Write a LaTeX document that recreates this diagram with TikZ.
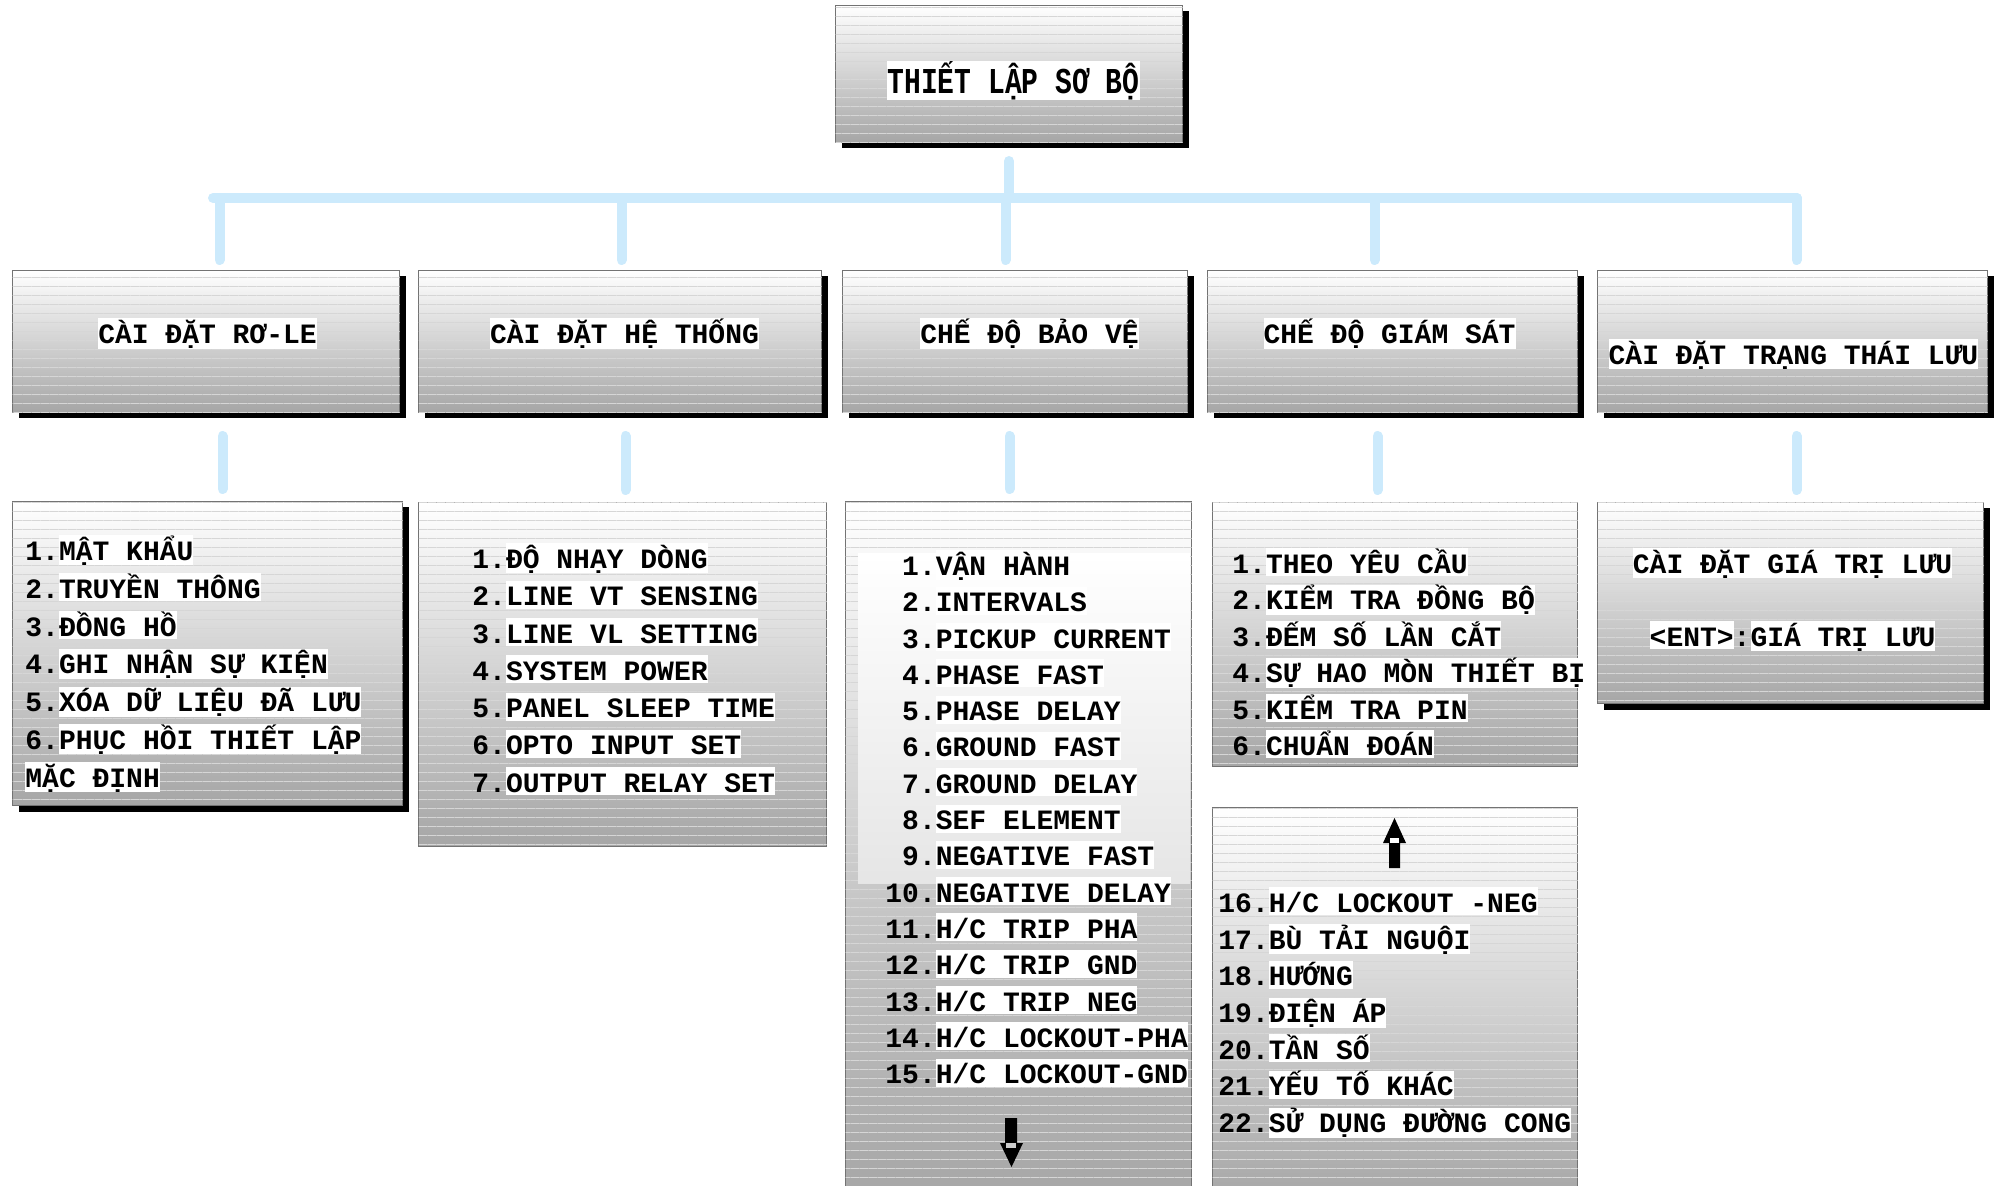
\documentclass[tikz,border=0pt]{standalone}
\usepackage{fontspec}
\setmonofont{Liberation Mono}
\usetikzlibrary{positioning,shadows,patterns.meta}

\definecolor{linkblue}{RGB}{204,234,252}
\newcommand{\hilite}[1]{{\setlength{\fboxsep}{0pt}\colorbox{white}{\rule[-1.5pt]{0pt}{14pt}#1}}}
\newcommand{\nr}[1]{\makebox[25.2pt][r]{#1}}

\begin{document}
\begin{tikzpicture}[
    x=0.5pt, y=-0.5pt,
    panel/.style = {rectangle, draw=black!55, line width=0.5pt, top color=white, bottom color=black!35,
        postaction={pattern={Lines[angle=0,distance=4.5pt,line width=0.3pt]}, pattern color=black!16},
        inner sep=0pt, minimum height=71pt},
    shadowed/.style = {drop shadow={shadow xshift=3pt, shadow yshift=-3pt, fill=black, opacity=1}},
    title/.style = {font=\ttfamily\bfseries\fontsize{14}{17}\selectfont, inner sep=0pt, anchor=base},
    itemlist/.style = {font=\ttfamily\bfseries\fontsize{14}{#1}\selectfont, align=left, inner sep=0pt, anchor=north west},
    link/.style = {draw=linkblue, line width=5pt, line cap=round}
]
    \useasboundingbox (0,0) rectangle (2000,1186);
    \clip (0,0) rectangle (2000,1186);

    % 1. Top box
    \node [panel, shadowed, minimum width=173.5pt, minimum height=68.5pt, anchor=north west] (root) at (835,5) {};
    \node [title] (root-t) at ([xshift=2.25pt,yshift=-9.75pt]root.center) {\scalebox{1}[1.3]{\hilite{THIẾT LẬP SƠ BỘ}}};

    % 2. Second row
    \node [panel, shadowed, minimum width=193.5pt, anchor=north west] (relay) at (12,270) {};
    \node [panel, shadowed, minimum width=201.5pt, anchor=north west] (system) at (418,270) {};
    \node [panel, shadowed, minimum width=172.5pt, anchor=north west] (protect) at (842,270) {};
    \node [panel, shadowed, minimum width=185pt, anchor=north west] (monitor) at (1207,270) {};
    \node [panel, shadowed, minimum width=195pt, anchor=north west] (store) at (1597,270) {};

    \node [title] (relay-t) at ([xshift=0.75pt,yshift=-1pt]relay.center) {\hilite{CÀI ĐẶT RƠ-LE}};
    \node [title] (system-t) at ([xshift=2.25pt,yshift=-1pt]system.center) {\hilite{CÀI ĐẶT HỆ THỐNG}};
    \node [title] (protect-t) at ([xshift=7.25pt,yshift=-1pt]protect.center) {\hilite{CHẾ ĐỘ BẢO VỆ}};
    \node [title] (monitor-t) at ([xshift=-1.5pt,yshift=-1pt]monitor.center) {\hilite{CHẾ ĐỘ GIÁM SÁT}};
    \node [title] (store-t) at ([xshift=0.5pt,yshift=-11.5pt]store.center) {\hilite{CÀI ĐẶT TRẠNG THÁI LƯU}};

    % 3. Third row (menu lists)
    \node [panel, shadowed, minimum width=195pt, minimum height=152pt, anchor=north west] (relaylist) at ([yshift=-44pt]relay.south west) {};
    \node [panel, minimum width=204pt, minimum height=172pt, anchor=north west] (systemlist) at ([yshift=-44.5pt]system.south west) {};
    \node [panel, middle color=black!20, minimum width=173pt, minimum height=350pt, anchor=north west] (protectlist) at ([xshift=1.5pt,yshift=-44pt]protect.south west) {};
    \node [panel, minimum width=182.5pt, minimum height=132pt, anchor=north west] (monitorlist) at ([xshift=2.5pt,yshift=-44.5pt]monitor.south west) {};
    \node [panel, minimum width=182.5pt, minimum height=197.5pt, anchor=north west] (monitormore) at ([yshift=-20pt]monitorlist.south west) {};
    \node [panel, shadowed, minimum width=193pt, minimum height=100.5pt, anchor=north west] (storelist) at ([yshift=-44.5pt]store.south west) {};

    % light band behind the first protection items
    \shade [top color=white, bottom color=black!10] (858,554) rectangle (1190,883);

    % 4. Menu entries
    \node [itemlist=18.9] (relay-items) at ([xshift=6.5pt,yshift=-17pt]relaylist.north west) {
        1.\hilite{MẬT KHẨU}\\
        2.\hilite{TRUYỀN THÔNG}\\
        3.\hilite{ĐỒNG HỒ}\\
        4.\hilite{GHI NHẬN SỰ KIỆN}\\
        5.\hilite{XÓA DỮ LIỆU ĐÃ LƯU}\\
        6.\hilite{PHỤC HỒI THIẾT LẬP}\\
        \hilite{MẶC ĐỊNH}};

    \node [itemlist=18.65] (system-items) at ([xshift=27pt,yshift=-20.5pt]systemlist.north west) {
        1.\hilite{ĐỘ NHẠY DÒNG}\\
        2.\hilite{LINE VT SENSING}\\
        3.\hilite{LINE VL SETTING}\\
        4.\hilite{SYSTEM POWER}\\
        5.\hilite{PANEL SLEEP TIME}\\
        6.\hilite{OPTO INPUT SET}\\
        7.\hilite{OUTPUT RELAY SET}};

    \node [itemlist=18.15] (protect-items) at ([xshift=20pt,yshift=-24.5pt]protectlist.north west) {
        \nr{1.}\hilite{VẬN HÀNH}\\
        \nr{2.}\hilite{INTERVALS}\\
        \nr{3.}\hilite{PICKUP CURRENT}\\
        \nr{4.}\hilite{PHASE FAST}\\
        \nr{5.}\hilite{PHASE DELAY}\\
        \nr{6.}\hilite{GROUND FAST}\\
        \nr{7.}\hilite{GROUND DELAY}\\
        \nr{8.}\hilite{SEF ELEMENT}\\
        \nr{9.}\hilite{NEGATIVE FAST}\\
        \nr{10.}\hilite{NEGATIVE DELAY}\\
        \nr{11.}\hilite{H/C TRIP PHA}\\
        \nr{12.}\hilite{H/C TRIP GND}\\
        \nr{13.}\hilite{H/C TRIP NEG}\\
        \nr{14.}\hilite{H/C LOCKOUT-PHA}\\
        \nr{15.}\hilite{H/C LOCKOUT-GND}};

    \node [itemlist=18.2] (monitor-items) at ([xshift=10pt,yshift=-23pt]monitorlist.north west) {
        1.\hilite{THEO YÊU CẦU}\\
        2.\hilite{KIỂM TRA ĐỒNG BỘ}\\
        3.\hilite{ĐẾM SỐ LẦN CẮT}\\
        4.\hilite{SỰ HAO MÒN THIẾT BỊ}\\
        5.\hilite{KIỂM TRA PIN}\\
        6.\hilite{CHUẨN ĐOÁN}};

    \node [itemlist=18.35] (monitor-more-items) at ([xshift=3pt,yshift=-40pt]monitormore.north west) {
        16.\hilite{H/C LOCKOUT -NEG}\\
        17.\hilite{BÙ TẢI NGUỘI}\\
        18.\hilite{HƯỚNG}\\
        19.\hilite{ĐIỆN ÁP}\\
        20.\hilite{TẦN SỐ}\\
        21.\hilite{YẾU TỐ KHÁC}\\
        22.\hilite{SỬ DỤNG ĐƯỜNG CONG}};

    \node [itemlist=36.5, align=center, anchor=north] (store-items) at ([xshift=1pt,yshift=-23pt]storelist.north) {
        \hilite{CÀI ĐẶT GIÁ TRỊ LƯU}\\
        \hilite{<ENT>}:\hilite{GIÁ TRỊ LƯU}};

    % 5. Scroll arrows
    \fill [black] (1005,1118) -- (1017,1118) -- (1017,1143) -- (1023,1143) -- (1011.5,1167) -- (1000,1143) -- (1005,1143) -- cycle;
    \fill [black!20] (1006,1143) rectangle (1016,1148);
    \fill [black] (1389,868) -- (1400,868) -- (1400,843) -- (1406,843) -- (1394.5,818) -- (1383,843) -- (1389,843) -- cycle;
    \fill [white] (1390,838) rectangle (1399,843);

    % 6. Connectors
    \coordinate (busL) at (213,198);
    \coordinate (busR) at (1797,198);
    \draw [link] ([yshift=-9pt]root.south) -- (root.south |- busL);
    \draw [link] (busL) -- (busR);

    % bus to second row
    \draw [link] ([xshift=6.75pt]relay.north |- busL) -- ([xshift=6.75pt,yshift=5pt]relay.north);
    \draw [link] ([xshift=0.75pt]system.north |- busL) -- ([xshift=0.75pt,yshift=5pt]system.north);
    \draw [link] ([xshift=-4.75pt]protect.north |- busL) -- ([xshift=-4.75pt,yshift=5pt]protect.north);
    \draw [link] ([xshift=-9pt]monitor.north |- busL) -- ([xshift=-9pt,yshift=5pt]monitor.north);
    \draw [link] ([xshift=2pt]store.north |- busL) -- ([xshift=2pt,yshift=5pt]store.north);

    % second row to lists
    \draw [link] ([xshift=8.25pt,yshift=-11.5pt]relay.south) -- ([xshift=8.25pt,yshift=6pt]relay.south |- relaylist.north);
    \draw [link] ([xshift=2.75pt,yshift=-11.5pt]system.south) -- ([xshift=2.75pt,yshift=6pt]system.south |- systemlist.north);
    \draw [link] ([xshift=-2.75pt,yshift=-11.5pt]protect.south) -- ([xshift=-2.75pt,yshift=6pt]protect.south |- protectlist.north);
    \draw [link] ([xshift=-7.5pt,yshift=-11.5pt]monitor.south) -- ([xshift=-7.5pt,yshift=6pt]monitor.south |- monitorlist.north);
    \draw [link] ([xshift=2pt,yshift=-11.5pt]store.south) -- ([xshift=2pt,yshift=6pt]store.south |- storelist.north);
\end{tikzpicture}
\end{document}
